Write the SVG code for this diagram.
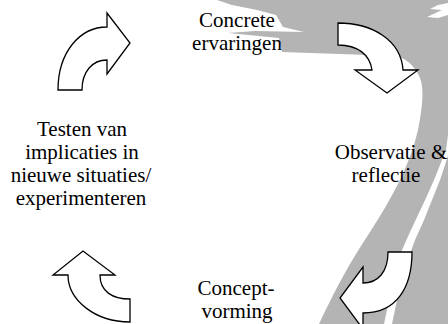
<svg xmlns="http://www.w3.org/2000/svg" width="448" height="324" viewBox="0 0 448 324">
<style>
.lbl{font-family:"Liberation Serif","DejaVu Serif",serif;font-size:21px;fill:#000;text-anchor:middle}
.arr{fill:#fff;stroke:#000;stroke-width:1.3;stroke-linejoin:miter}
.bg{fill:#b4b4b4}
</style>
<rect width="448" height="324" fill="#fff"/>
<g id="backdrop">
<path class="bg" d="M217,0 L448,0 L448,324 L319,324 C335,290 350,262 370,232 C392,198 410,165 418,130 C423,105 424,88 420,78 C414,64 405,58 395,56 L340,54 L282,52 L279,38 L228,33 L255,31 L304,32 L283,27 L276,15 L257,10 L232,5 Z"/>
<path fill="#fff" d="M448,135 L446,150 L440,165 L434,180 L426,198 L418,215 L410,232 L402,250 L396,268 L391,290 L387,310 L384,324 L392,324 L396,305 L400,285 L407,262 L415,240 L424,220 L432,200 L440,180 L446,162 L448,155 Z"/>
<path fill="#fff" d="M448,3 L438,5 L430,9 L442,10 L427,17 L438,18 L448,15 Z"/>
</g>
<g id="connectors">
<path class="arr" d="M58,90 C58,52 80,27 107,27 L107,13 L130,43 L107,74 L107,60 C92,60 82,72 82,90 Z"/>
<path class="arr" d="M338,23 C372,23 401,40 403,70 L418,70 L387,93 L355,70 L372,70 C370,55 358,45 338,45 Z"/>
<path class="arr" d="M412,252 C412,287 397,313 363,313 L363,329 L340,298 L363,267 L363,283 C378,283 388,272 388,252 Z"/>
<path class="arr" d="M68,275 C68,300 95,322 130,322 L130,299 C113,299 100,292 100,275 L115,275 L83,251 L53,275 Z"/>
</g>
<g id="node-concrete"><text class="lbl" font-family="Liberation Serif, serif"><tspan x="237" y="27">Concrete</tspan><tspan x="237" y="50">ervaringen</tspan></text></g>
<g id="node-observatie"><text class="lbl" font-family="Liberation Serif, serif"><tspan x="391" y="159">Observatie &amp;</tspan><tspan x="386" y="182">reflectie</tspan></text></g>
<g id="node-concept"><text class="lbl" font-family="Liberation Serif, serif"><tspan x="236" y="295">Concept-</tspan><tspan x="237" y="318">vorming</tspan></text></g>
<g id="node-testen"><text class="lbl" font-family="Liberation Serif, serif"><tspan x="82" y="136">Testen van</tspan><tspan x="82" y="159">implicaties in</tspan><tspan x="81" y="182">nieuwe situaties/</tspan><tspan x="81" y="205">experimenteren</tspan></text></g>
</svg>
